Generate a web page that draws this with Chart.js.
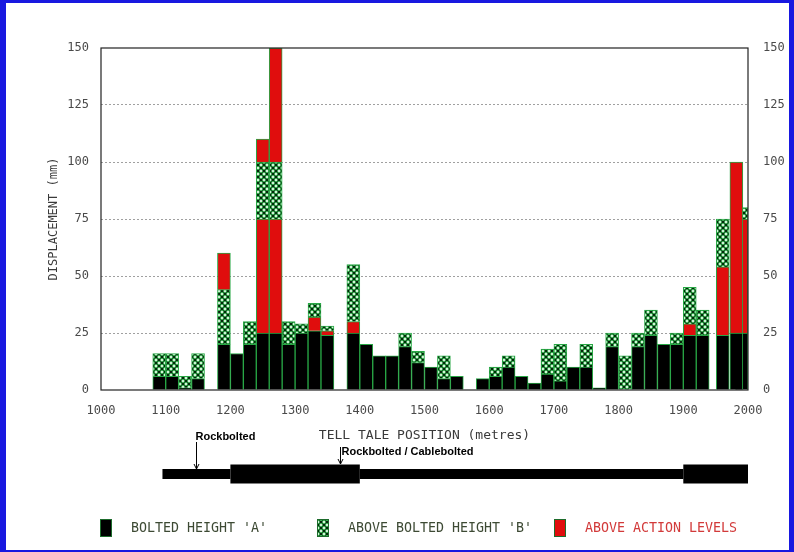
<!DOCTYPE html>
<html>
<head>
<meta charset="utf-8">
<script src="https://cdn.jsdelivr.net/npm/chart.js@4.4.1/dist/chart.umd.min.js"></script>
<style>
html,body{margin:0;padding:0;background:#fff;}
#wrap{position:relative;width:794px;height:552px;overflow:hidden;background:#fff;}
#frame{position:absolute;left:0;top:0;width:794px;height:552px;box-sizing:border-box;border-left:6px solid #1818e0;border-top:3px solid #1818e0;border-right:5px solid #1818e0;border-bottom:2px solid #1818e0;pointer-events:none;}
</style>
</head>
<body>
<div id="wrap"><canvas id="c" width="794" height="552"></canvas><div id="frame"></div></div>
<script>
// ---- DATA ----
// tell-tale positions (metres) – bar centres
const positions = [1090,1110,1130,1150,1170,1190,1210,1230,1250,1270,
                   1290,1310,1330,1350,1370,1390,1410,1430,1450,1470,
                   1490,1510,1530,1550,1570,1590,1610,1630,1650,1670,
                   1690,1710,1730,1750,1770,1790,1810,1830,1850,1870,
                   1890,1910,1930,1961,1990,1982];
// segment heights (mm), stacked bottom -> top
const boltedA    = [6,6,1,5,0,20,16,20,25,25, 20,25,26,24,0,25,20,15,15,19, 12,10,5,6,0,5,6,10,6,3, 7,4,10,10,1,19,0,19,24,20, 20,24,24,24,25,25];
const actionLow  = [0,0,0,0,0,0,0,0,50,50, 0,0,6,2,0,5,0,0,0,0, 0,0,0,0,0,0,0,0,0,0, 0,0,0,0,0,0,0,0,0,0, 0,5,0,30,50,75];
const aboveB     = [10,10,5,11,0,24,0,10,25,25, 10,4,6,2,0,25,0,0,0,6, 5,0,10,0,0,0,4,5,0,0, 11,16,0,10,0,6,15,6,11,0, 5,16,11,21,5,0];
const actionHigh = [0,0,0,0,0,16,0,0,10,50, 0,0,0,0,0,0,0,0,0,0, 0,0,0,0,0,0,0,0,0,0, 0,0,0,0,0,0,0,0,0,0, 0,0,0,0,0,0];
const xTickValues = [1000,1100,1200,1300,1400,1500,1600,1700,1800,1900,2000];
const yTickValues = [0,25,50,75,100,125,150];
const seriesLabels = ["BOLTED HEIGHT 'A'", "ABOVE BOLTED HEIGHT 'B'", "ABOVE ACTION LEVELS"];
// support along the tunnel (metres)
const supportStart = [1095,1200,1400,1900];
const supportEnd   = [1200,1400,1900,2000];
const supportKind  = ['thin','thick','thin','thick'];
const noteText = ['Rockbolted','Rockbolted / Cablebolted'];
const notePos  = [1147,1370];

// ---- STYLE ----
const BAR_WIDTH_M = 20;
const RED = '#e00d0d';
const EDGE = '#28a745';
const MONO = "'DejaVu Sans Mono', monospace";

function makeHatch(){
  const s = 6;
  const c = document.createElement('canvas');
  c.width = s; c.height = s;
  const g = c.getContext('2d');
  g.fillStyle = '#06220b';
  g.fillRect(0,0,s,s);
  const dots = [[3,3],[0,0],[6,0],[0,6],[6,6]];
  g.lineWidth = 0.9;
  g.strokeStyle = '#2fae4a';
  g.fillStyle = '#eefcee';
  dots.forEach(([x,y])=>{
    g.beginPath(); g.ellipse(x,y,1.5,1.7,0,0,Math.PI*2); g.fill(); g.stroke();
  });
  return g.createPattern(c,'repeat');
}
const HATCH = makeHatch();

function toPoints(vals){
  return positions.map((p,i)=>({x:p, y: vals[i] === 0 ? null : vals[i]}));
}

const barWidthPx = (ctx)=>{
  const s = ctx.chart.scales.x;
  if (!s) return 10;
  return Math.abs(s.getPixelForValue(s.min + BAR_WIDTH_M) - s.getPixelForValue(s.min));
};

const common = {stack:'s', grouped:false, barThickness: barWidthPx, borderColor: EDGE, borderWidth: 1, borderSkipped:'start'};

const datasets = [
  Object.assign({label: seriesLabels[0], data: toPoints(boltedA), backgroundColor:'#000000', inLegend:true}, common),
  Object.assign({label: seriesLabels[2], data: toPoints(actionLow), backgroundColor: RED, inLegend:false}, common),
  Object.assign({label: seriesLabels[1], data: toPoints(aboveB), backgroundColor: HATCH, inLegend:true}, common),
  Object.assign({label: seriesLabels[2], data: toPoints(actionHigh), backgroundColor: RED, inLegend:true}, common)
];

// frame around plot area
const framePlugin = {
  id:'frame',
  afterDatasetsDraw(chart){
    const {ctx, chartArea:a} = chart;
    ctx.save();
    ctx.strokeStyle = '#222';
    ctx.lineWidth = 1.2;
    ctx.strokeRect(a.left, a.top, a.right - a.left, a.bottom - a.top);
    ctx.restore();
  }
};

// support band + notes under the x axis
const supportPlugin = {
  id:'support',
  afterDraw(chart){
    const {ctx, chartArea:a} = chart;
    const xs = chart.scales.x;
    const cy = a.bottom + 84;
    ctx.save();
    ctx.fillStyle = '#000';
    supportStart.forEach((s,i)=>{
      const x1 = xs.getPixelForValue(s), x2 = xs.getPixelForValue(supportEnd[i]);
      const h = supportKind[i] === 'thick' ? 19 : 10;
      ctx.fillRect(x1, cy - h/2, x2 - x1, h);
    });
    const textY = [a.bottom + 50, a.bottom + 65];
    const arrowTop = [a.bottom + 52, a.bottom + 57];
    const arrowEnd = [cy - 5, cy - 10];
    ctx.font = "bold 11px 'Liberation Sans', Arial, sans-serif";
    ctx.textBaseline = 'alphabetic';
    ctx.textAlign = 'left';
    ctx.strokeStyle = '#000';
    ctx.lineWidth = 1;
    notePos.forEach((p,i)=>{
      const x = Math.round(xs.getPixelForValue(p)) + 0.5;
      ctx.fillText(noteText[i], x - 1 + i*2, textY[i]);
      ctx.beginPath(); ctx.moveTo(x, arrowTop[i]); ctx.lineTo(x, arrowEnd[i]); ctx.stroke();
      ctx.beginPath(); ctx.moveTo(x-2.5, arrowEnd[i]-5); ctx.lineTo(x, arrowEnd[i]); ctx.lineTo(x+2.5, arrowEnd[i]-5); ctx.stroke();
    });
    ctx.restore();
  }
};

// legend at the bottom
const legendPlugin = {
  id:'customLegend',
  afterDraw(chart){
    const {ctx} = chart;
    const boxX = [100, 317, 554];
    const textColor = ['#3d4a34', '#3d4a34', '#d23a3a'];
    const cy = 528;
    const items = chart.data.datasets.filter(d=>d.inLegend);
    ctx.save();
    ctx.font = "13.3px " + MONO;
    ctx.textBaseline = 'middle';
    items.forEach((d,i)=>{
      ctx.fillStyle = d.backgroundColor;
      ctx.fillRect(boxX[i], cy - 9, 12, 18);
      ctx.strokeStyle = '#1d6b2c';
      ctx.lineWidth = 1;
      ctx.strokeRect(boxX[i]+0.5, cy - 8.5, 11, 17);
      ctx.fillStyle = textColor[i];
      ctx.fillText(d.label, boxX[i] + 31, cy + 1);
    });
    ctx.restore();
  }
};

const plainTick = (v)=> String(v);

new Chart(document.getElementById('c'), {
  type:'bar',
  data:{datasets},
  options:{
    responsive:false,
    animation:false,
    devicePixelRatio:1,
    layout:{padding:{top:48, left:0, right:0, bottom:42}},
    plugins:{legend:{display:false}, tooltip:{enabled:false}},
    scales:{
      x:{
        type:'linear', min:1000, max:2000, offset:false, position:'bottom',
        afterBuildTicks:(s)=>{ s.ticks = xTickValues.map(v=>({value:v})); },
        ticks:{padding:6, color:'#4a4a4a', maxRotation:0, autoSkip:false, font:{family:MONO, size:12}, callback: plainTick},
        grid:{display:false}, border:{display:false},
        title:{display:true, text:'TELL TALE POSITION (metres)', color:'#3a3a3a', font:{family:MONO, size:13}, padding:{top:0, bottom:67}},
        afterFit:(s)=>{ s.height = 120; }
      },
      y:{
        type:'linear', min:0, max:150, position:'left', stacked:true,
        afterBuildTicks:(s)=>{ s.ticks = yTickValues.map(v=>({value:v})); },
        ticks:{padding:12, color:'#4a4a4a', font:{family:MONO, size:12}, callback: plainTick},
        grid:{drawTicks:false, lineWidth:1, color:(c)=> (c.tick && (c.tick.value === 0 || c.tick.value === 150)) ? 'rgba(0,0,0,0)' : '#a0a0a0'},
        border:{display:false, dash:[2,2]},
        title:{display:true, text:'DISPLACEMENT (mm)', color:'#3a3a3a', font:{family:MONO, size:12}, padding:{top:47, bottom:0}},
        afterFit:(s)=>{ s.width = 101; }
      },
      y2:{
        type:'linear', min:0, max:150, position:'right',
        afterBuildTicks:(s)=>{ s.ticks = yTickValues.map(v=>({value:v})); },
        ticks:{padding:15, color:'#4a4a4a', font:{family:MONO, size:12}, callback: plainTick},
        grid:{display:false, drawTicks:false}, border:{display:false},
        afterFit:(s)=>{ s.width = 46; }
      }
    }
  },
  plugins:[framePlugin, supportPlugin, legendPlugin]
});
</script>
</body>
</html>
